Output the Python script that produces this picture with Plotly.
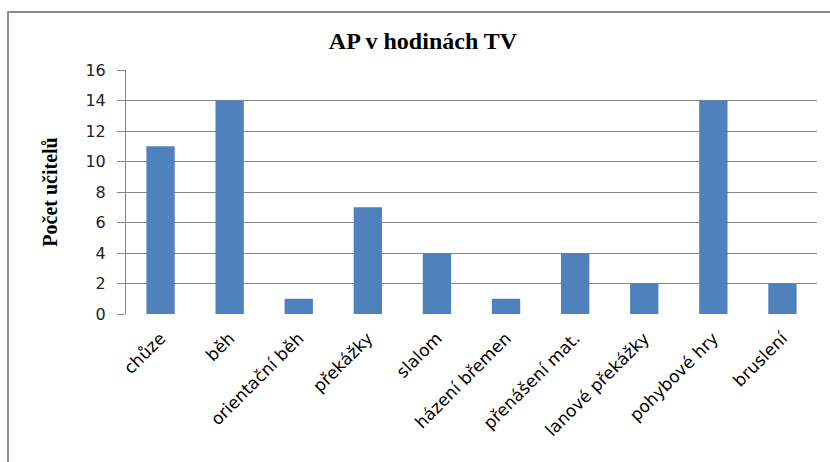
import plotly.graph_objects as go

categories = ["chůze", "běh", "orientační běh", "překážky", "slalom",
              "házení břemen", "přenášení mat.", "lanové překážky",
              "pohybové hry", "bruslení"]
values = [11, 14, 1, 7, 4, 1, 4, 2, 14, 2]
y_ticks = [0, 2, 4, 6, 8, 10, 12, 14, 16]

fig = go.Figure(go.Bar(x=categories, y=values, marker_color="#4F81BD",
                       marker_line_width=0, width=0.41))

W, H = 830, 462
ml, mr, mt, mb = 126, 13, 70, 148
pw, ph = W - ml - mr, H - mt - mb

def px(x):
    return (x - ml) / pw

def py(y):
    return (H - mb - y) / ph

fig.update_layout(
    width=W, height=H,
    margin=dict(l=ml, r=mr, t=mt, b=mb, autoexpand=False),
    paper_bgcolor="white", plot_bgcolor="white",
    showlegend=False,
    title=dict(text="<b>AP v hodinách TV</b>", x=px(423), xref="paper",
               xanchor="center", y=1 - 41 / H, yanchor="middle",
               font=dict(family="Liberation Serif", size=24, color="black")),
    xaxis=dict(type="category", tickangle=-45, showgrid=False,
               showline=False, ticks="", ticklabelstandoff=10,
               tickfont=dict(family="DejaVu Sans", size=17, color="black")),
    yaxis=dict(range=[0, 16], tickvals=y_ticks, showgrid=True,
               gridcolor="#888888", gridwidth=1, showline=True,
               linecolor="#888888", ticks="outside", ticklen=8,
               tickcolor="#888888", zeroline=False, ticklabelstandoff=8,
               tickfont=dict(family="DejaVu Sans", size=16, color="#222222"),
               title=dict(text="<b>Počet učitelů</b>", standoff=22,
                          font=dict(family="Liberation Serif", size=20,
                                    color="black"))),
    shapes=[
        dict(type="rect", xref="paper", yref="paper",
             x0=px(8), x1=px(W + 20), y0=py(12), y1=py(H + 20),
             line=dict(color="#8C8C8C", width=2), fillcolor="rgba(0,0,0,0)",
             layer="below"),
    ],
)

fig.write_html("out.html", config={"displayModeBar": False},
               post_script="document.body.style.margin='0';")
